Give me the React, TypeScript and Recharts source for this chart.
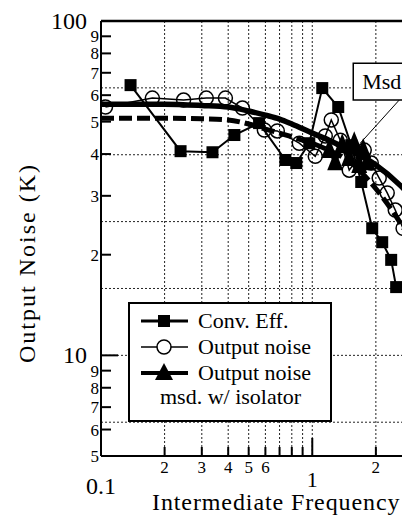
import {
  ComposedChart,
  Line,
  XAxis,
  YAxis,
  CartesianGrid,
  ReferenceLine,
  ReferenceArea,
  Legend,
} from "recharts";

const FONT = '"Liberation Serif", "Times New Roman", serif';

// Conv. Eff. (filled squares)
const convX = [0.138, 0.238, 0.337, 0.428, 0.56, 0.746, 0.84, 0.968, 1.115, 1.327, 1.529, 1.705, 1.922, 2.143, 2.363, 2.495];
const convY = [64.3, 40.8, 40.5, 45.6, 49.5, 38.4, 37.6, 43.1, 63.0, 55.3, 42.5, 33.0, 24.0, 21.8, 19.3, 16.0];

// Output noise (open circles)
const noiseX = [0.105, 0.175, 0.246, 0.315, 0.388, 0.467, 0.593, 0.683, 0.868, 1.033, 1.152, 1.23, 1.357, 1.496, 1.762, 1.901, 2.074, 2.263, 2.47, 2.69];
const noiseY = [55.3, 58.8, 58.0, 58.8, 58.8, 54.9, 47.2, 46.9, 43.1, 39.4, 45.3, 50.6, 44.0, 35.8, 41.1, 37.6, 33.9, 30.6, 27.2, 24.0];

// Output noise msd. w/ isolator (filled triangles)
const isoX = [1.204, 1.284, 1.386, 1.496, 1.58, 1.668, 1.742, 1.82];
const isoY = [41.1, 37.8, 42.5, 38.9, 43.1, 37.1, 41.1, 37.8];

// smooth curves (thick solid / thick dashed)
const fitX = [0.1, 0.2, 0.3, 0.4, 0.5, 0.6, 0.7, 0.8, 1.0, 1.2, 1.5, 2.0, 2.6, 3.2];
const fitY = [56.4, 56.4, 55.9, 55.3, 53.8, 52.3, 50.9, 49.2, 46.2, 44.0, 41.1, 37.1, 32.3, 28.0];
const dashY = [51.2, 51.2, 51.0, 50.6, 49.2, 47.5, 46.2, 45.0, 43.1, 41.0, 38.0, 31.5, 25.0, 20.0];

const yTicks = [5, 6, 7, 8, 9, 10, 20, 30, 40, 50, 60, 70, 80, 90, 100];
const yTickLabels = ["5", "6", "7", "8", "9", "10", "2", "3", "4", "5", "6", "7", "8", "9", "100"];
const xTicks = [0.1, 0.2, 0.3, 0.4, 0.5, 0.6, 0.7, 0.8, 0.9, 1, 2];
const xTickLabels = ["0.1", "2", "3", "4", "5", "6", "", "", "", "1", "2"];

const gridX = [0.2, 0.3, 0.4, 0.5, 0.6, 0.7, 0.8, 0.9, 1, 2, 3];
const gridY = [6.31, 10, 15.85, 25.12, 39.81, 63.1];

const pts = (xs: number[], ys: number[]) => xs.map((x, i) => ({ x, y: ys[i] }));
const convData = pts(convX, convY);
const noiseData = pts(noiseX, noiseY);
const isoData = pts(isoX, isoY);
const fitData = pts(fitX, fitY);
const dashData = pts(fitX, dashY);

const SquareDot = (p: any) =>
  p.cx == null ? null : (
    <rect key={`sq${p.index}`} x={p.cx - 6} y={p.cy - 6} width={12} height={12} fill="#000" />
  );

const TriDot = (p: any) =>
  p.cx == null ? null : (
    <path
      key={`tr${p.index}`}
      d={`M${p.cx},${p.cy - 12} L${p.cx + 8},${p.cy + 8} L${p.cx - 8},${p.cy + 8} Z`}
      fill="#000"
    />
  );

const YTick = (props: any) => {
  const { x, y, index } = props;
  const label = yTickLabels[index];
  const big = label === "100" || label === "10";
  const corner = label === "100" || index === 0;
  return (
    <g>
      {!corner && (
        <line x1={x} y1={y} x2={x + (label === "10" ? 17 : 10)} y2={y} stroke="#000" strokeWidth={2} />
      )}
      <text
        x={big ? x - 14 : x - 2}
        y={y}
        dy={big ? 8 : 6}
        textAnchor="end"
        fontSize={big ? 24 : 17}
        fontFamily={FONT}
        fill="#000"
      >
        {label}
      </text>
    </g>
  );
};

const XTick = (props: any) => {
  const { x, y, index } = props;
  const label = xTickLabels[index];
  const big = label === "0.1" || label === "1";
  return (
    <g>
      {index > 0 && (
        <line x1={x} y1={y} x2={x} y2={y - (label === "1" ? 18 : 9)} stroke="#000" strokeWidth={2} />
      )}
      <text
        x={x}
        y={y}
        dy={label === "1" ? 31 : big ? 38 : 17}
        textAnchor="middle"
        fontSize={label === "1" ? 22 : big ? 24 : 17}
        fontFamily={FONT}
        fill="#000"
      >
        {label}
      </text>
    </g>
  );
};

const LegendBox = () => (
  <div
    style={{
      position: "relative",
      width: 204,
      height: 120,
      boxSizing: "border-box",
      border: "2px solid #000",
      background: "#fff",
      fontFamily: FONT,
      fontSize: 22,
      color: "#000",
    }}
  >
    {[
      { y: 17, label: "Conv. Eff.", kind: "square" },
      { y: 43, label: "Output noise", kind: "circle" },
      { y: 69, label: "Output noise", kind: "triangle" },
    ].map((r) => (
      <div key={r.y + r.kind}>
        <svg
          width={50}
          height={24}
          style={{ position: "absolute", left: 10, top: r.y - 12 }}
        >
          <line
            x1={1}
            y1={12}
            x2={48}
            y2={12}
            stroke="#000"
            strokeWidth={r.kind === "circle" ? 1.5 : r.kind === "square" ? 3 : 4}
          />
          {r.kind === "square" && <rect x={18} y={6} width={12} height={12} fill="#000" />}
          {r.kind === "circle" && <circle cx={24} cy={12} r={7} fill="#fff" stroke="#000" strokeWidth={1.5} />}
          {r.kind === "triangle" && <path d="M24,2 L33,19 L15,19 Z" fill="#000" />}
        </svg>
        <div style={{ position: "absolute", left: 68, top: r.y - 12, lineHeight: "24px", whiteSpace: "nowrap" }}>
          {r.label}
        </div>
      </div>
    ))}
    <div style={{ position: "absolute", left: 30, top: 81, lineHeight: "24px", whiteSpace: "nowrap" }}>
      msd. w/ isolator
    </div>
  </div>
);

export default function App() {
  return (
    <div
      style={{
        position: "absolute",
        left: 0,
        top: 0,
        width: 402,
        height: 525,
        overflow: "hidden",
        background: "#fff",
      }}
    >
      <ComposedChart width={440} height={525} margin={{ top: 21, right: 21, bottom: 39, left: 100 }}>
        <CartesianGrid
          horizontalValues={gridY}
          verticalValues={gridX}
          stroke="#222"
          strokeDasharray="2 2"
          strokeWidth={1}
        />
        <XAxis
          dataKey="x"
          type="number"
          scale="log"
          domain={[0.1, 3.2]}
          allowDataOverflow
          ticks={xTicks}
          interval={0}
          height={30}
          tickSize={0}
          tickMargin={0}
          tick={<XTick />}
          axisLine={{ stroke: "#000", strokeWidth: 2 }}
        />
        <YAxis
          type="number"
          scale="log"
          domain={[5, 100]}
          allowDataOverflow
          ticks={yTicks}
          interval={0}
          width={1}
          tickSize={0}
          tickMargin={0}
          tick={<YTick />}
          axisLine={{ stroke: "#000", strokeWidth: 2 }}
        />
        <ReferenceLine y={100} stroke="#000" strokeWidth={2.5} />

        <Line
          data={fitData}
          dataKey="y"
          type="monotone"
          stroke="#000"
          strokeWidth={5.5}
          dot={false}
          isAnimationActive={false}
          legendType="none"
        />
        <Line
          data={dashData}
          dataKey="y"
          type="monotone"
          stroke="#000"
          strokeWidth={5}
          strokeDasharray="13 5"
          dot={false}
          isAnimationActive={false}
          legendType="none"
        />
        <Line
          data={convData}
          dataKey="y"
          name="Conv. Eff."
          type="linear"
          stroke="#000"
          strokeWidth={2}
          dot={SquareDot}
          isAnimationActive={false}
        />
        <Line
          data={noiseData}
          dataKey="y"
          name="Output noise"
          type="linear"
          stroke="#000"
          strokeWidth={1.5}
          dot={{ r: 7, fill: "none", stroke: "#000", strokeWidth: 1.5 }}
          isAnimationActive={false}
        />
        <Line
          data={isoData}
          dataKey="y"
          name="Output noise msd. w/ isolator"
          type="linear"
          stroke="#000"
          strokeWidth={3.5}
          dot={TriDot}
          isAnimationActive={false}
        />

        <ReferenceArea
          x1={1.563}
          x2={3.2}
          y1={58}
          y2={74.8}
          ifOverflow="visible"
          fill="#fff"
          fillOpacity={1}
          stroke="#000"
          strokeWidth={1.5}
          label={{ value: "Msd", position: "insideLeft", offset: 9, fontSize: 22, fill: "#000", fontFamily: FONT }}
        />
        <ReferenceLine
          segment={[
            { x: 2.578, y: 58 },
            { x: 1.687, y: 43.1 },
          ]}
          stroke="#000"
          strokeWidth={1}
          ifOverflow="visible"
        />

        <Legend
          layout="vertical"
          align="center"
          verticalAlign="middle"
          content={<LegendBox />}
          wrapperStyle={{ position: "absolute", left: 128, top: 302, width: 204, height: 120 }}
        />
      </ComposedChart>

      <div
        style={{
          position: "absolute",
          left: 152,
          top: 493,
          fontFamily: FONT,
          fontSize: 24,
          letterSpacing: 0.9,
          whiteSpace: "nowrap",
          lineHeight: "18px",
          color: "#000",
        }}
      >
        Intermediate Frequency
      </div>
      <div
        style={{
          position: "absolute",
          left: 27,
          top: 263,
          transform: "translate(-50%, -50%) rotate(-90deg)",
          fontFamily: FONT,
          fontSize: 24,
          letterSpacing: 2,
          whiteSpace: "nowrap",
          lineHeight: "26px",
          color: "#000",
        }}
      >
        Output Noise (K)
      </div>
    </div>
  );
}
